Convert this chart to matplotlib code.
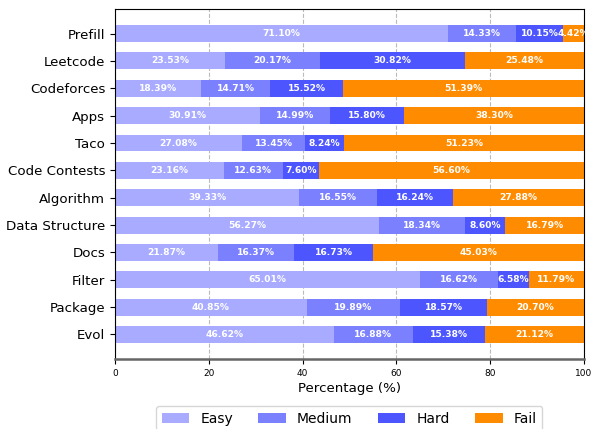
import numpy as np
import matplotlib as mpl
mpl.use("Agg")
import matplotlib.pyplot as plt

categories = ["Prefill", "Leetcode", "Codeforces", "Apps", "Taco", "Code Contests",
              "Algorithm", "Data Structure", "Docs", "Filter", "Package", "Evol"]
easy = [71.10, 23.53, 18.39, 30.91, 27.08, 23.16, 39.33, 56.27, 21.87, 65.01, 40.85, 46.62]
medium = [14.33, 20.17, 14.71, 14.99, 13.45, 12.63, 16.55, 18.34, 16.37, 16.62, 19.89, 16.88]
hard = [10.15, 30.82, 15.52, 15.80, 8.24, 7.60, 16.24, 8.60, 16.73, 6.58, 18.57, 15.38]
fail = [4.42, 25.48, 51.39, 38.30, 51.23, 56.60, 27.88, 16.79, 45.03, 11.79, 20.70, 21.12]
series_names = ["Easy", "Medium", "Hard", "Fail"]
colors = ["#A8ABFF", "#7B80FF", "#4D55FF", "#FF8C00"]

fig = plt.figure(figsize=(5.99, 4.29), dpi=100)
ax = fig.add_axes([0.192, 0.163, 0.783, 0.816])

y = np.arange(len(categories))
left = np.zeros(len(categories))
for name, vals, c in zip(series_names, [easy, medium, hard, fail], colors):
    vals = np.array(vals)
    ax.barh(y, vals, left=left, height=0.62, color=c, label=name, zorder=2)
    for yi, l, v in zip(y, left, vals):
        ax.text(l + v / 2, yi, f"{v:.2f}%", ha="center", va="center",
                color="white", fontsize=6.6, fontweight="bold", zorder=3)
    left = left + vals

ax.set_yticks(y)
ax.set_yticklabels(categories, fontsize=9.6)
ax.set_ylim(len(categories) - 0.1, -0.9)
ax.set_xlim(0, 100)
ax.set_xticks([0, 20, 40, 60, 80, 100])
ax.tick_params(axis="x", labelsize=6.5)
ax.set_xlabel("Percentage (%)", fontsize=9.6, labelpad=3)
ax.grid(axis="x", color="#bbbbbb", ls="--", lw=0.8, zorder=0)
ax.set_axisbelow(True)
ax.spines["bottom"].set_color("#666666")
ax.spines["bottom"].set_linewidth(1.8)

fig.legend(loc="lower center", bbox_to_anchor=(0.583, -0.022), ncol=4,
           fontsize=10, handlelength=2.0, handletextpad=0.8,
           columnspacing=1.8, frameon=True)

fig.savefig("out.png", dpi=100)
